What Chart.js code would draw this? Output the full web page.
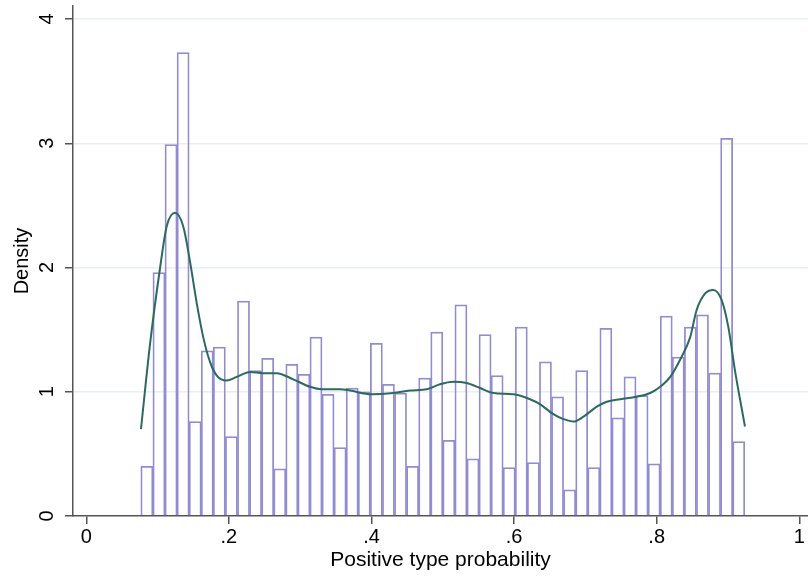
<!DOCTYPE html>
<html>
<head>
<meta charset="utf-8">
<script src="https://cdn.jsdelivr.net/npm/chart.js@4.4.1/dist/chart.umd.min.js"></script>
<style>
  html, body { margin: 0; padding: 0; background: #fff; }
  #wrap { width: 808px; height: 577px; position: relative; }
</style>
</head>
<body>
<div id="wrap"><canvas id="chart"></canvas></div>
<script>
// histogram: 50 bins from 0.0765 to 0.9235
const binStart = 0.0765;
const binWidth = 0.01694;
const density = [
  0.40, 1.96, 2.99, 3.73, 0.76, 1.33, 1.36, 0.64, 1.73, 1.17,
  1.27, 0.38, 1.22, 1.14, 1.44, 0.98, 0.55, 1.03, 1.00, 1.39,
  1.06, 0.99, 0.40, 1.11, 1.48, 0.61, 1.70, 0.46, 1.46, 1.13,
  0.39, 1.52, 0.43, 1.24, 0.96, 0.21, 1.17, 0.39, 1.51, 0.79,
  1.12, 0.97, 0.42, 1.61, 1.28, 1.52, 1.62, 1.15, 3.04, 0.60
];

// kernel density curve
const kdeX = [0.0767, 0.0893, 0.1033, 0.1127, 0.1244, 0.136, 0.1454, 0.155, 0.164, 0.1735,
  0.183, 0.197, 0.211, 0.2296, 0.248, 0.267, 0.2903, 0.3137, 0.3306, 0.356,
  0.3698, 0.400, 0.4306, 0.454, 0.4775, 0.496, 0.5147, 0.5335, 0.552, 0.571,
  0.599, 0.6223, 0.6363, 0.655, 0.6693, 0.6834, 0.6974, 0.716, 0.730, 0.749,
  0.772, 0.791, 0.805, 0.819, 0.833, 0.847, 0.8561, 0.8677, 0.8794, 0.891,
  0.9005, 0.9098, 0.9238];
const kdeY = [0.70, 1.38, 1.99, 2.33, 2.44, 2.33, 2.05, 1.71, 1.44, 1.24,
  1.13, 1.09, 1.12, 1.16, 1.15, 1.15, 1.10, 1.04, 1.02, 1.02,
  1.01, 0.98, 0.99, 1.01, 1.02, 1.06, 1.08, 1.07, 1.03, 0.99,
  0.98, 0.94, 0.90, 0.82, 0.78, 0.76, 0.80, 0.88, 0.92, 0.94,
  0.96, 0.99, 1.04, 1.12, 1.26, 1.44, 1.66, 1.79, 1.82, 1.74,
  1.52, 1.17, 0.72];

const xTicks = [0, 0.2, 0.4, 0.6, 0.8, 1];
const xTickLabels = ["0", ".2", ".4", ".6", ".8", "1"];
const yTicks = [0, 1, 2, 3, 4];
const yTickLabels = ["0", "1", "2", "3", "4"];

const barData = density.map((d, i) => ({ x: binStart + binWidth * (i + 0.5), y: d }));
const lineData = kdeX.map((x, i) => ({ x: x, y: kdeY[i] }));

const axisColor = "#555555";
const fam = "Arial, 'Liberation Sans', sans-serif";

new Chart(document.getElementById("chart"), {
  data: {
    datasets: [
      {
        type: "line",
        data: lineData,
        borderColor: "#2b6a5e",
        borderWidth: 2,
        pointRadius: 0,
        cubicInterpolationMode: "monotone",
        fill: false,
        order: 0
      },
      {
        type: "bar",
        data: barData,
        backgroundColor: "rgba(255,255,255,0)",
        borderColor: "#918ad9",
        borderWidth: 1.1,
        borderSkipped: "bottom",
        barPercentage: 1,
        categoryPercentage: 1,
        order: 1
      }
    ]
  },
  options: {
    responsive: true,
    maintainAspectRatio: false,
    animation: false,
    layout: { padding: { top: 6, right: 0, left: 0, bottom: 0 } },
    plugins: { legend: { display: false }, tooltip: { enabled: false } },
    scales: {
      x: {
        type: "linear",
        offset: false,
        min: -0.01865,
        max: 1.0122,
        afterBuildTicks: s => { s.ticks = xTicks.map(v => ({ value: v })); },
        afterFit: s => { s.height = 61; s.paddingLeft = 0; s.paddingRight = 0; },
        ticks: {
          color: "#000",
          font: { family: fam, size: 20 },
          padding: 1,
          maxRotation: 0,
          callback: v => xTickLabels[xTicks.indexOf(v)]
        },
        grid: { offset: false, drawOnChartArea: false, drawTicks: true, tickLength: 8, tickColor: axisColor, lineWidth: 1.5 },
        border: { display: true, color: axisColor, width: 1.5 },
        title: { display: true, text: "Positive type probability", color: "#000", font: { family: fam, size: 21 }, padding: { top: 0, bottom: 4 } }
      },
      y: {
        type: "linear",
        min: 0,
        max: 4.105,
        afterBuildTicks: s => { s.ticks = yTicks.map(v => ({ value: v })); },
        afterFit: s => { s.width = 73; s.paddingTop = 0; s.paddingBottom = 0; },
        ticks: {
          color: "#000",
          font: { family: fam, size: 20 },
          padding: 12,
          minRotation: 90,
          maxRotation: 90,
          crossAlign: "center",
          callback: v => yTickLabels[yTicks.indexOf(v)]
        },
        grid: {
          color: ctx => (ctx.tick && ctx.tick.value === 0) ? "rgba(0,0,0,0)" : "#e8eef2",
          lineWidth: 1.5,
          drawTicks: true,
          tickLength: 8,
          tickColor: axisColor
        },
        border: { display: true, color: axisColor, width: 1.5 },
        title: { display: true, text: "Density", color: "#000", font: { family: fam, size: 20 }, padding: { top: 10, bottom: 0 } }
      }
    }
  }
});
</script>
</body>
</html>
